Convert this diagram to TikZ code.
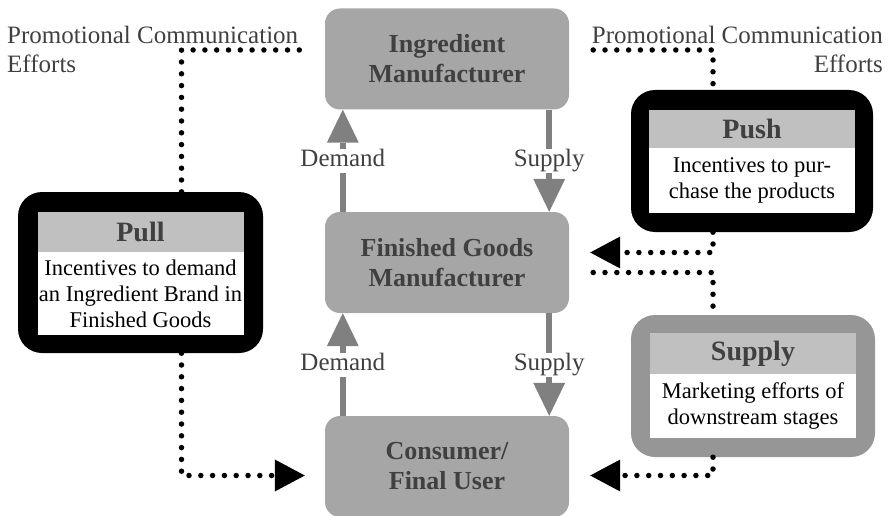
\documentclass[tikz,border=0pt]{standalone}
\usepackage{fontspec}
\setmainfont{Liberation Serif}
\usepackage{xcolor}
\usepackage{tikz}
\usetikzlibrary{arrows.meta,positioning}

\definecolor{stagegray}{HTML}{A6A6A6}
\definecolor{headgray}{HTML}{C0C0C0}
\definecolor{flowgray}{HTML}{808080}
\definecolor{textgray}{HTML}{404040}
\definecolor{supplygray}{HTML}{969696}

\tikzset{
	stage/.style={rectangle, rounded corners=15pt, fill=stagegray, minimum width=244pt, minimum height=101pt, align=center, text=textgray, font=\fontsize{26}{30}\selectfont\bfseries},
	sidebox/.style={rectangle, rounded corners=24pt},
	boxhead/.style={anchor=north, fill=headgray, minimum width=206pt, inner sep=0pt, text=textgray, font=\fontsize{28}{32}\selectfont\bfseries},
	boxbody/.style={anchor=north, fill=white, minimum width=206pt, inner sep=0pt, align=center, font=\fontsize{22.5}{26}\selectfont},
	flowarrow/.style={draw=flowgray, line width=6pt, -{Triangle[length=33pt,width=32pt,line width=0pt]}},
	flowlabel/.style={fill=white, text=textgray, inner sep=1pt, text height=17pt, text depth=5pt, font=\fontsize{25}{29}\selectfont},
	promoline/.style={line width=5.5pt, line cap=round, dash pattern=on 0pt off 11.8pt},
	promoarrow/.style={promoline, -{Triangle[length=30pt,width=32pt,line width=0pt]}},
	promotext/.style={inner sep=0pt, text=textgray, font=\fontsize{25}{29}\selectfont}
}

\begin{document}
\begin{tikzpicture}[x=1pt,y=-1pt]
		\clip (0,0) rectangle (888,516);
		% stages
		\node[stage] (ing) at (447,59) {Ingredient\\Manufacturer};
		\node[stage] (fin) at (447,262.5) {Finished Goods\\Manufacturer};
		\node[stage] (cons) at (447,466.5) {Consumer/\\Final User};
		%
		\draw[flowarrow] ([xshift=18pt]fin.north west) -- node[flowlabel]{Demand} ([xshift=18pt]ing.south west);
		\draw[flowarrow] ([xshift=-20pt]ing.south east) -- node[flowlabel]{Supply} ([xshift=-20pt]fin.north east);
		\draw[flowarrow] ([xshift=18pt]cons.north west) -- node[flowlabel]{Demand} ([xshift=18pt]fin.south west);
		\draw[flowarrow] ([xshift=-20pt]fin.south east) -- node[flowlabel]{Supply} ([xshift=-20pt]cons.north east);
		% side boxes
		\node[sidebox, fill=black, minimum width=245pt, minimum height=161pt] (pull) at (140.5,272.5) {};
		\node[boxhead, minimum height=40pt] (pullhead) at ([yshift=-20pt]pull.north) {Pull};
		\node[boxbody, minimum height=83pt] (pullbody) at (pullhead.south) {Incentives to demand\\an Ingredient Brand in\\Finished Goods};
		%
		\node[sidebox, fill=black, minimum width=242pt, minimum height=142pt] (push) at (752,161) {};
		\node[boxhead, minimum height=38pt] (pushhead) at ([yshift=-20pt]push.north) {Push};
		\node[boxbody, minimum height=65pt] (pushbody) at (pushhead.south) {Incentives to pur-\\chase the products};
		%
		\node[sidebox, fill=supplygray, minimum width=244pt, minimum height=142pt] (supply) at (753,386) {};
		\node[boxhead, minimum height=41pt] (supplyhead) at ([yshift=-18pt]supply.north) {Supply};
		\node[boxbody, minimum height=64pt] (supplybody) at (supplyhead.south) {Marketing efforts of\\downstream stages};
		% promotional communication
		\node[promotext, anchor=north west, align=left] (promoleft) at (7,26) {Promotional Communication\\Efforts};
		\node[promotext, anchor=north east, align=right] (promoright) at (883,26) {Promotional Communication\\Efforts};
		%
		\draw[promoline] ([xshift=41pt]pull.north) |- ([xshift=-23pt,yshift=9pt]ing.west);
		\draw[promoarrow] ([xshift=41pt]pull.south) |- ([xshift=-20pt,yshift=-9pt]cons.west);
		\draw[promoline] ([xshift=24pt,yshift=9pt]ing.east) -| ([xshift=-39pt]push.north);
		\draw[promoarrow] ([xshift=-39pt]push.south) |- ([xshift=21pt,yshift=10pt]fin.east);
		\draw[promoline] ([xshift=24pt,yshift=-10pt]fin.east) -| ([xshift=-40pt]supply.north);
		\draw[promoarrow] ([xshift=-40pt]supply.south) |- ([xshift=21pt,yshift=-9pt]cons.east);
		\end{tikzpicture}
\end{document}
